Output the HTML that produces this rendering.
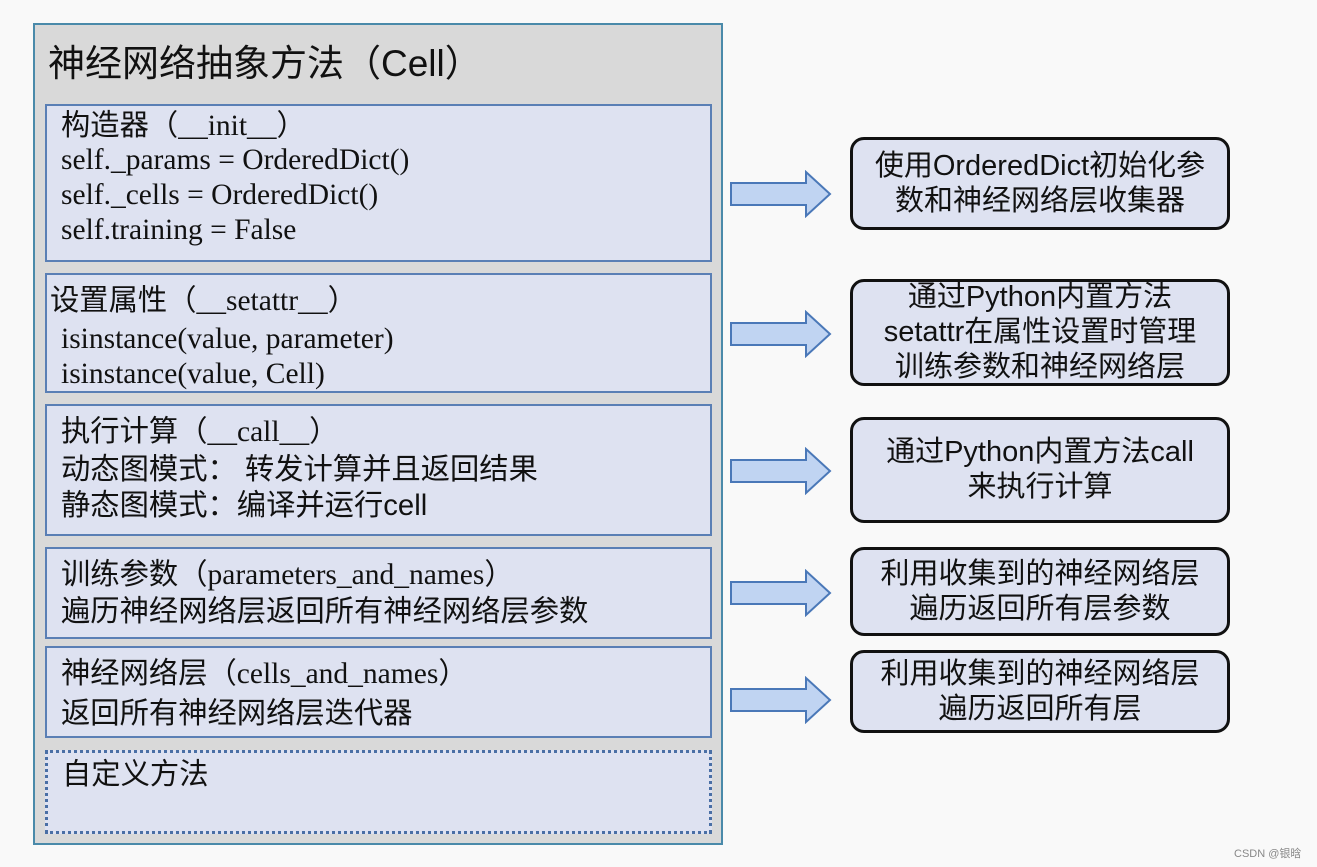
<!DOCTYPE html>
<html><head><meta charset="utf-8"><style>
body{margin:0;width:1317px;height:867px;background:#f9f9f9;position:relative;overflow:hidden;font-family:"Liberation Sans","Noto Sans CJK SC",sans-serif;color:#111}
.a{position:absolute;box-sizing:border-box}
.outer{left:33px;top:23px;width:690px;height:822px;background:#d9d9d9;border:2px solid #4a8aaa}
.in{left:45px;width:667px;background:#dee2f1;border:2px solid #5a7fb5}
.t{position:absolute;left:14px;white-space:nowrap;font-size:29.3px;line-height:35px}
.s{font-family:"Liberation Serif","Noto Serif CJK SC",serif;font-size:29.5px}
.r{left:850px;width:380px;border:3.5px solid #111;border-radius:14px;background:#dee2f1;display:flex;align-items:center;justify-content:center;text-align:center;font-size:29px;line-height:35px;white-space:nowrap}
svg{position:absolute;left:728px}
</style></head><body>
<div class="a outer"></div>
<div class="a" style="left:48px;top:33px;font-size:37px;white-space:nowrap">神经网络抽象方法（Cell）</div>

<div class="a in" style="top:104px;height:158px">
<div class="t" style="top:2px">构造器（<span class="s">__init__</span>）</div>
<div class="t s" style="top:37px">self._params = OrderedDict()</div>
<div class="t s" style="top:72px">self._cells = OrderedDict()</div>
<div class="t s" style="top:107px">self.training = False</div>
</div>
<div class="a in" style="top:273px;height:120px">
<div class="t" style="top:8px;left:3px">设置属性（<span class="s">__setattr__</span>）</div>
<div class="t s" style="top:47px">isinstance(value, parameter)</div>
<div class="t s" style="top:82px">isinstance(value, Cell)</div>
</div>
<div class="a in" style="top:404px;height:132px">
<div class="t" style="top:8px">执行计算（<span class="s">__call__</span>）</div>
<div class="t" style="top:46px">动态图模式： 转发计算并且返回结果</div>
<div class="t" style="top:82px">静态图模式：编译并运行cell</div>
</div>
<div class="a in" style="top:547px;height:92px">
<div class="t" style="top:8px">训练参数（<span class="s">parameters_and_names</span>）</div>
<div class="t" style="top:45px">遍历神经网络层返回所有神经网络层参数</div>
</div>
<div class="a in" style="top:646px;height:92px">
<div class="t" style="top:8px">神经网络层（<span class="s">cells_and_names</span>）</div>
<div class="t" style="top:48px">返回所有神经网络层迭代器</div>
</div>
<div class="a in" style="top:750px;height:84px;border:3px dotted #4a6fa5">
<div class="t" style="top:4px">自定义方法</div>
</div>

<svg style="top:170px" width="106" height="48"><polygon points="3,13 78,13 78,2 102,24 78,46 78,35 3,35" fill="#c0d4f2" stroke="#4a78b8" stroke-width="2"/></svg>
<svg style="top:310px" width="106" height="48"><polygon points="3,13 78,13 78,2 102,24 78,46 78,35 3,35" fill="#c0d4f2" stroke="#4a78b8" stroke-width="2"/></svg>
<svg style="top:447px" width="106" height="48"><polygon points="3,13 78,13 78,2 102,24 78,46 78,35 3,35" fill="#c0d4f2" stroke="#4a78b8" stroke-width="2"/></svg>
<svg style="top:569px" width="106" height="48"><polygon points="3,13 78,13 78,2 102,24 78,46 78,35 3,35" fill="#c0d4f2" stroke="#4a78b8" stroke-width="2"/></svg>
<svg style="top:676px" width="106" height="48"><polygon points="3,13 78,13 78,2 102,24 78,46 78,35 3,35" fill="#c0d4f2" stroke="#4a78b8" stroke-width="2"/></svg>

<div class="a r" style="top:137px;height:93px">使用OrderedDict初始化参<br>数和神经网络层收集器</div>
<div class="a r" style="top:279px;height:107px">通过Python内置方法<br>setattr在属性设置时管理<br>训练参数和神经网络层</div>
<div class="a r" style="top:417px;height:106px">通过Python内置方法call<br>来执行计算</div>
<div class="a r" style="top:547px;height:89px">利用收集到的神经网络层<br>遍历返回所有层参数</div>
<div class="a r" style="top:650px;height:83px">利用收集到的神经网络层<br>遍历返回所有层</div>
<div class="a" style="left:1234px;top:845px;font-size:11px;color:#888">CSDN @银晗</div>
</body></html>
